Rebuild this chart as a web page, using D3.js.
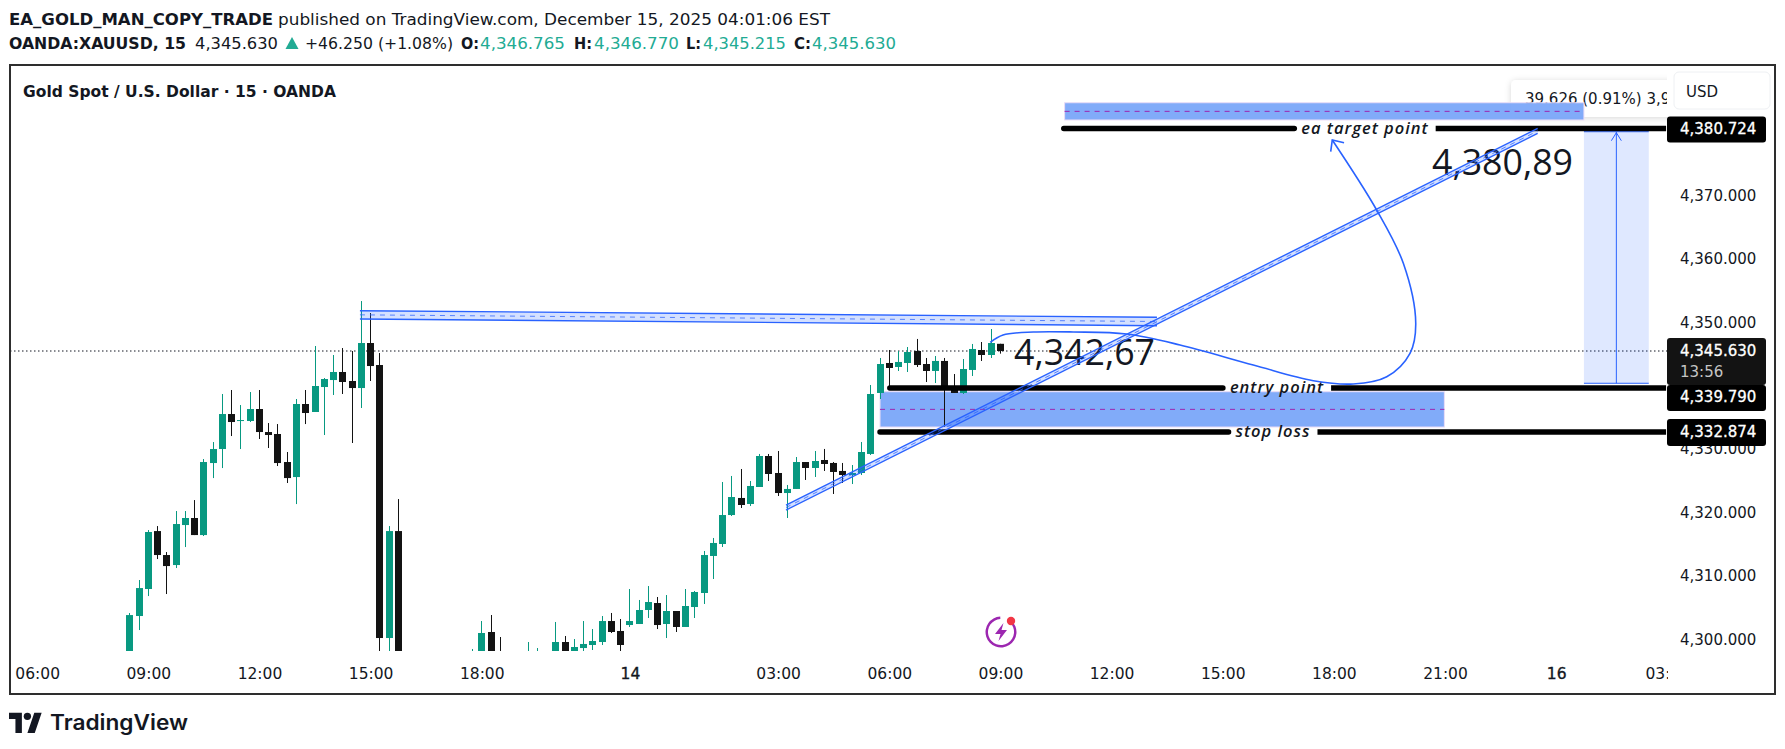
<!DOCTYPE html>
<html><head><meta charset="utf-8">
<script src="https://cdn.jsdelivr.net/npm/d3@7"></script>
<style>
html,body{margin:0;padding:0;background:#fff}
svg{display:block}
text{font-family:"DejaVu Sans",sans-serif;fill:#131722}
</style></head><body>
<svg id="c" width="1785" height="749"></svg>
<script>
// ---------- candles (15-minute bars, index = bar number; null = off the visible pane) ----------
const n7=[null,null,null,null,null,null,null];
const barOpen=[4296,4303.83,4308.09,4317.23,4313.45,4311.87,4318.18,4319.29,4316.60,4327.96,
4330.17,4335.69,4334.59,4334.59,4336.48,4332.85,4332.54,4328.12,4325.75,4337.27,
4336.01,4339.95,4341.05,4342.32,4340.90,4339.79,4346.89,4343.42,4300.36,4317.23,
...n7,4296,4296,4301.31,
4297.5,null,null,4296.5,4296.5,null,4297.5,4299.73,4297.5,4298.78,
4299.26,4299.73,4303.04,4301.47,4302.41,4302.57,4304.78,4305.88,4302.57,4304.62,
4302.10,4305.25,4307.46,4313.30,4315.19,4319.76,4322.45,4321.50,4324.18,4329.07,
4326.39,4323.23,4323.87,4328.12,4327.18,4328.44,4327.97,4326.71,4326.07,4326.39,
4329.39,4339.01,4343.74,4343.11,4343.74,4345.63,4343.58,4342.48,4344.06,4340.11,
4339.01,4342.64,4345.79,4345.00,4346.765];
const barHigh=[4304.30,4309.51,4317.39,4318.02,4313.92,4320.39,4320.39,4322.12,4328.59,4331.27,
4338.85,4339.48,4337.11,4339.16,4339.48,4334.27,4334.11,4329.70,4338.06,4339.48,
4346.42,4341.37,4345.00,4346.10,4345.63,4353.51,4351.62,4345.31,4318.02,4322.28,
...n7,4298.63,4303.04,4303.99,
4300.52,null,null,4299.73,4298.78,null,4302.89,4300.68,4300.20,4303.04,
4301.78,4303.83,4304.31,4303.36,4308.09,4306.36,4308.56,4306.83,4307.14,4304.62,
4308.09,4307.78,4314.09,4316.14,4324.97,4325.92,4327.02,4325.13,4329.39,4329.39,
4329.86,4324.50,4328.91,4328.12,4329.86,4330.18,4328.12,4327.97,4327.65,4331.28,
4340.27,4344.53,4345.79,4345.63,4346.26,4347.53,4344.53,4344.84,4344.53,4342.00,
4344.37,4346.74,4347.05,4349.10,4346.77];
const barLow=[4294,4301.62,4306.98,4312.82,4307.30,4311.40,4314.71,4316.60,4316.45,4325.59,
4327.17,4332.22,4330.17,4334.43,4331.75,4330.33,4327.49,4324.81,4321.49,4334.11,
4336.01,4332.38,4338.69,4338.85,4331.12,4336.64,4340.90,4296,4296,4292,
...n7,4295,4295,4295,
4295,null,null,4296,4296,null,4297,4297,4297,4298.31,
4298.47,4299.26,4301.15,4297,4302.10,4302.57,4303.52,4301.78,4300.36,4301.31,
4302.10,4303.52,4305.73,4309.67,4314.72,4319.61,4320.87,4321.18,4324.18,4325.13,
4322.76,4319.29,4323.87,4325.29,4325.76,4326.71,4323.08,4324.81,4324.65,4326.07,
4329.23,4338.06,4340.11,4342.48,4342.32,4343.11,4340.74,4340.58,4333.70,4339.01,
4338.85,4341.69,4344.06,4344.53,4345.215];
const barClose=[4303.98,4308.24,4317.08,4313.45,4311.71,4318.34,4319.29,4316.60,4328.12,4330.17,
4335.69,4334.43,4334.74,4336.48,4332.85,4332.38,4327.96,4325.59,4337.27,4335.85,
4340.11,4341.21,4342.32,4340.74,4339.79,4346.89,4343.26,4300.36,4317.23,4294,
...n7,4297,4301.15,4296,
4296.5,null,null,4297.5,4297.5,null,4299.73,4297.5,4298.94,4299.42,
4299.89,4303.04,4301.31,4299.26,4303.04,4304.78,4306.04,4302.41,4304.62,4302.10,
4305.41,4307.62,4313.45,4315.35,4319.76,4322.60,4321.34,4324.34,4329.07,4326.23,
4323.23,4323.87,4328.12,4327.18,4328.28,4327.81,4326.55,4326.07,4326.39,4329.70,
4338.85,4343.58,4342.95,4343.90,4345.47,4343.42,4342.48,4344.06,4339.48,4339.01,
4342.79,4345.95,4345.00,4346.89,4345.63];
// ---------- axes ----------
const priceTicks=[4300,4310,4320,4330,4350,4360,4370];
const timeTickBars=[-10,2,14,26,38,54,70,82,94,106,118,130,142,154,166];
const timeTickLabels=["06:00","09:00","12:00","15:00","18:00","14","03:00","06:00","09:00","12:00","15:00","18:00","21:00","16","03:00"];
const dayTicks=["14","16"];
// ---------- drawings, in bar / price coordinates ----------
const lastPrice=4345.63, countdown="13:56";
const levelNames=["ea target point","entry point","stop loss"];
const levelPrices=[4380.724,4339.79,4332.874];
const levelStartBars=[100.84,82.06,81.0];
const levelLabelBars=[133.36,123.86,123.43];
const levelEndBar=165.87;
const zoneBars=[[100.93,157.0],[81.0,141.93]];
const zonePrices=[[4382.07,4384.79],[4333.64,4339.21]];
const topChannelBars=[24.85,110.9];
const topChannelUpper=[4351.99,4350.95];
const topChannelLower=[4350.68,4349.62];
const riseChannelBars=[70.85,152.0];
const riseChannelUpper=[4321.34,4380.73];
const riseChannelLower=[4320.55,4379.94];
const curveBars=[92.9,94.28,97.55,101.87,107.63,113.39,121.30,127.78,132.10,135.71,138.22,138.84,137.50,134.62,129.83];
const curvePrices=[4347.0,4348.15,4348.63,4348.63,4348.31,4346.58,4343.42,4340.95,4340.43,4341.58,4345.27,4350.0,4359.46,4367.87,4378.91];
const arrowWingBars=[131.1,129.66];
const arrowWingPrices=[4378.49,4377.07];
const measureBars=[157.0,164.0];
const measurePrices=[4340.54,4380.22];
const bigLabels=["4,342,67","4,380,89"];
const bigLabelBars=[95.47,140.6];
const bigLabelPrices=[4343.42,4373.39];
const axisBoxes=["4,380.724","4,339.790","4,332.874"];

const UP="#089981",DOWN="#131313",BLUE="#2962ff",PURPLE="#9c27b0";
const svg=d3.select("#c");
const x=d3.scaleLinear().domain([0,94]).range([129.8,1000.43]);
const y=d3.scaleLinear().domain([4300,4370]).range([640.3,196.5]);
const defs=svg.append("defs");
defs.append("clipPath").attr("id","pane").append("rect").attr("x",10).attr("y",66).attr("width",1657).attr("height",585);
defs.append("clipPath").attr("id","time").append("rect").attr("x",10).attr("y",655).attr("width",1658).attr("height",38);
defs.append("clipPath").attr("id","tip").append("rect").attr("x",1500).attr("y",70).attr("width",171).attr("height",50);
const sh=defs.append("filter").attr("id","shadow").attr("x","-10%").attr("y","-30%").attr("width","120%").attr("height","170%");
sh.append("feDropShadow").attr("dx",0).attr("dy",1).attr("stdDeviation",3).attr("flood-color","#000").attr("flood-opacity",.16);

// header
const seg=(t,px,yy,len,bold,col)=>svg.append("text").attr("x",px).attr("y",yy).attr("font-size",16)
  .attr("font-weight",bold?700:400).attr("textLength",len).attr("lengthAdjust","spacingAndGlyphs").style("fill",col||"#131722").text(t);
const L1=25,L2=49,TEAL="#22ab94";
seg("EA_GOLD_MAN_COPY_TRADE",9,L1,264,true);
seg("published on TradingView.com, December 15, 2025 04:01:06 EST",278,L1,552,false);
seg("OANDA:XAUUSD, 15",9,L2,177,true);
seg("4,345.630",195,L2,83,false);
svg.append("path").attr("d","M285.5 49L292 37L298.5 49Z").attr("fill",TEAL);
seg("+46.250 (+1.08%)",305,L2,148,false);
seg("O:",461,L2,18,true); seg("4,346.765",480,L2,85,false,TEAL);
seg("H:",574,L2,18,true); seg("4,346.770",594,L2,85,false,TEAL);
seg("L:",686,L2,15,true); seg("4,345.215",703,L2,83,false,TEAL);
seg("C:",794,L2,17,true); seg("4,345.630",812,L2,84,false,TEAL);

// tooltip and target zone underlay order
const pane=svg.append("g").attr("clip-path","url(#pane)");
pane.append("rect").attr("x",1511).attr("y",80).attr("width",200).attr("height",37).attr("rx",5).attr("fill","#fff").attr("filter","url(#shadow)");
pane.append("g").attr("clip-path","url(#tip)").append("text").attr("x",1525).attr("y",104).attr("font-size",15).text("39.626 (0.91%) 3,963");

// last-price dotted line
pane.append("line").attr("x1",10).attr("x2",1667).attr("y1",y(lastPrice)).attr("y2",y(lastPrice))
  .attr("stroke","#131722").attr("stroke-width",1).attr("stroke-dasharray","1.5,2.5");

// zones
zoneBars.forEach((b,i)=>{
  const p=zonePrices[i];
  pane.append("rect").attr("x",x(b[0])).attr("width",x(b[1])-x(b[0])).attr("y",y(p[1])).attr("height",y(p[0])-y(p[1]))
    .attr("fill","#7aa6f9").attr("fill-opacity",.95).attr("stroke","#eadcf6").attr("stroke-width",1);
  pane.append("line").attr("x1",x(b[0])).attr("x2",x(b[1])).attr("y1",y((p[0]+p[1])/2)).attr("y2",y((p[0]+p[1])/2))
    .attr("stroke",PURPLE).attr("stroke-dasharray","5,5").attr("stroke-width",1);
});

// measure tool
const mx0=x(measureBars[0]),mx1=x(measureBars[1]),my0=y(measurePrices[0]),my1=y(measurePrices[1]),mc=(mx0+mx1)/2;
pane.append("rect").attr("x",mx0).attr("y",my1).attr("width",mx1-mx0).attr("height",my0-my1).attr("fill",BLUE).attr("fill-opacity",.15);
[my0,my1].forEach(v=>pane.append("line").attr("x1",mx0).attr("x2",mx1).attr("y1",v).attr("y2",v).attr("stroke",BLUE).attr("stroke-width",1));
pane.append("line").attr("x1",mc).attr("x2",mc).attr("y1",my0).attr("y2",my1).attr("stroke",BLUE).attr("stroke-width",1);
pane.append("path").attr("d",`M${mc-5} ${my1+9}L${mc} ${my1+1}L${mc+5} ${my1+9}`).attr("fill","none").attr("stroke",BLUE);

// candles
const bars=barOpen.map((o,i)=>({i,o,h:barHigh[i],l:barLow[i],c:barClose[i]})).filter(d=>d.o!==null);
const col=d=>d.c>=d.o?UP:DOWN;
const cg=pane.append("g");
cg.selectAll("rect.w").data(bars).join("rect").attr("class","w")
  .attr("x",d=>Math.floor(x(d.i))).attr("width",1).attr("y",d=>y(d.h)).attr("height",d=>y(d.l)-y(d.h)).attr("fill",col);
cg.selectAll("rect.b").data(bars).join("rect").attr("class","b")
  .attr("x",d=>Math.floor(x(d.i))-3).attr("width",7)
  .attr("y",d=>y(Math.max(d.o,d.c))).attr("height",d=>Math.max(1,y(Math.min(d.o,d.c))-y(Math.max(d.o,d.c)))).attr("fill",col);

// big labels
bigLabels.forEach((t,i)=>pane.append("text").attr("x",x(bigLabelBars[i])).attr("y",y(bigLabelPrices[i]))
  .style("font-family","'Open Sans'").attr("font-size",36).attr("textLength",141).attr("lengthAdjust","spacingAndGlyphs").style("fill","#131722").text(t));

// horizontal levels with inline labels
levelNames.forEach((t,i)=>{
  const yy=y(levelPrices[i]);
  const lab=pane.append("text").attr("x",x(levelLabelBars[i])).attr("y",yy+5).attr("text-anchor","middle")
    .style("font-family","'Open Sans'").attr("font-size",16.5).attr("font-weight",600).attr("font-style","italic").attr("letter-spacing",1).style("fill","#131722").text(t);
  const w=lab.node().getComputedTextLength()/2+7;
  const c=x(levelLabelBars[i]);
  [[x(levelStartBars[i]),c-w],[c+w,x(levelEndBar)]].forEach(s=>pane.append("line").attr("x1",s[0]).attr("x2",s[1]).attr("y1",yy).attr("y2",yy)
    .attr("stroke","#000").attr("stroke-width",5.5).attr("stroke-linecap",s[0]<c?"round":"butt"));
});

// channels
function channel(bs,up,lo,fo){
  const xa=x(bs[0]),xb=x(bs[1]);
  pane.append("path").attr("d",`M${xa} ${y(up[0])}L${xb} ${y(up[1])}L${xb} ${y(lo[1])}L${xa} ${y(lo[0])}Z`).attr("fill",BLUE).attr("fill-opacity",fo).attr("stroke","none");
  [up,lo].forEach(s=>pane.append("line").attr("x1",xa).attr("x2",xb).attr("y1",y(s[0])).attr("y2",y(s[1])).attr("stroke",BLUE).attr("stroke-width",1.4));
  pane.append("line").attr("x1",xa).attr("x2",xb).attr("y1",(y(up[0])+y(lo[0]))/2).attr("y2",(y(up[1])+y(lo[1]))/2)
    .attr("stroke",BLUE).attr("stroke-opacity",.75).attr("stroke-width",1).attr("stroke-dasharray","5,5");
}
channel(topChannelBars,topChannelUpper,topChannelLower,.2);
channel(riseChannelBars,riseChannelUpper,riseChannelLower,.2);

// curved arrow
const curve=d3.line().x(d=>x(d[0])).y(d=>y(d[1])).curve(d3.curveCatmullRom.alpha(.5));
pane.append("path").attr("d",curve(curveBars.map((b,i)=>[b,curvePrices[i]]))).attr("fill","none").attr("stroke",BLUE).attr("stroke-width",1.6);
const tipI=curveBars.length-1;
pane.append("path").attr("d",d3.line()([[x(arrowWingBars[0]),y(arrowWingPrices[0])],[x(curveBars[tipI]),y(curvePrices[tipI])],[x(arrowWingBars[1]),y(arrowWingPrices[1])]]))
  .attr("fill","none").attr("stroke",BLUE).attr("stroke-width",1.6);

// price axis
svg.append("g").attr("transform","translate(1680,0)").call(d3.axisRight(y).tickValues(priceTicks).tickSize(0).tickPadding(0).tickFormat(d3.format(",.3f")))
  .call(g=>g.select(".domain").remove())
  .call(g=>g.selectAll("text").attr("font-size",15).attr("font-family",null).attr("dy",".25em").style("fill","#131722"));
// time axis
svg.append("g").attr("clip-path","url(#time)").append("g").attr("transform","translate(0,667)").call(d3.axisBottom(x).tickValues(timeTickBars).tickSize(0).tickPadding(0).tickFormat((d,i)=>timeTickLabels[i]))
  .call(g=>g.select(".domain").remove())
  .call(g=>g.selectAll("text").attr("font-size",15.5).attr("font-family",null).attr("dy",".76em")
    .style("stroke",function(){return dayTicks.includes(this.textContent)?"#131722":"none"}).style("stroke-width",.35).style("fill","#131722"));

// price axis boxes
const priceBox=(top,h,fill,r)=>svg.append("rect").attr("x",1667).attr("width",99).attr("y",top).attr("height",h).attr("rx",r).attr("fill",fill);
const boxTxt=(t,yy,c)=>svg.append("text").attr("x",1680).attr("y",yy).attr("font-size",15).style("stroke",c?"none":"#fff").style("stroke-width",.3).style("fill",c||"#fff").attr("dy",".36em").text(t);
priceBox(y(levelPrices[0])-12,26,"#000",3);
boxTxt(axisBoxes[0],y(levelPrices[0]));
priceBox(y(levelPrices[2])-13,27,"#000",3);
boxTxt(axisBoxes[2],y(levelPrices[2]));
priceBox(y(lastPrice)-13,47,"#131313",3);
priceBox(y(levelPrices[1])-3,26,"#000",3);
boxTxt(d3.format(",.3f")(lastPrice),y(lastPrice)-.5);
boxTxt(countdown,372,"#c4c4c4");
boxTxt(axisBoxes[1],y(levelPrices[1])+9);

// USD button
svg.append("rect").attr("x",1674).attr("y",72).attr("width",96).attr("height",37).attr("rx",5).attr("fill","#fff").attr("stroke","#eef0f3");
svg.append("text").attr("x",1686).attr("y",97).attr("font-size",15).text("USD");

// title + frame
svg.append("text").attr("x",23).attr("y",97).attr("font-size",15).attr("font-weight",700).attr("textLength",313).attr("lengthAdjust","spacingAndGlyphs").text("Gold Spot / U.S. Dollar · 15 · OANDA");
svg.append("rect").attr("x",10).attr("y",65).attr("width",1765).attr("height",629).attr("fill","none").attr("stroke","#2e2e2e").attr("stroke-width",2);

// bolt icon
const ic=svg.append("g").attr("transform","translate(1001,632)");
ic.append("path").attr("d",d3.arc()({innerRadius:13,outerRadius:15.5,startAngle:.75,endAngle:Math.PI*2-.05})).attr("fill",PURPLE);
ic.append("path").attr("d","M2.5 -9L-6 2H-0.5L-2.5 9L6 -2H0.5Z").attr("fill",PURPLE);
ic.append("circle").attr("cx",10).attr("cy",-11).attr("r",4.2).attr("fill","#f23645");

// brand
const lg=svg.append("g").attr("transform","translate(9,709) scale(0.92)").attr("fill","#131722");
lg.append("path").attr("d","M14 26H7V11H0V4h14v22zM28 26h-8l7.5-22h8L28 26z");
lg.append("circle").attr("cx",20).attr("cy",8).attr("r",4);
svg.append("text").attr("x",50).attr("y",730).style("font-family","Inter").attr("font-size",21).attr("font-weight",600).attr("textLength",138).attr("lengthAdjust","spacingAndGlyphs").text("TradingView");
</script>
</body></html>
